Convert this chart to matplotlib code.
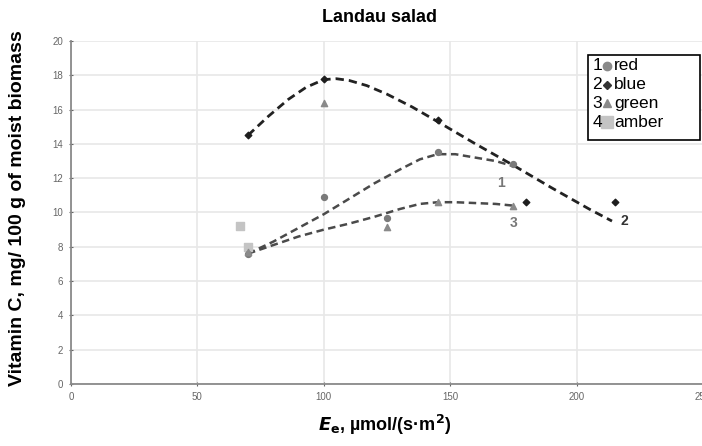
import matplotlib
matplotlib.use("Agg")
import matplotlib.pyplot as plt
from matplotlib.lines import Line2D
from matplotlib.patches import Rectangle

plt.rcParams["font.family"] = ["Liberation Sans", "DejaVu Sans"]

# measured points
red_x = [70, 100, 125, 145, 175]
red_y = [7.6, 10.9, 9.7, 13.5, 12.8]
blue_x = [70, 100, 145, 180, 215]
blue_y = [14.5, 17.8, 15.4, 10.6, 10.6]
green_x = [70, 100, 125, 145, 175]
green_y = [7.7, 16.4, 9.15, 10.6, 10.4]
amber_x = [67, 70]
amber_y = [9.2, 8.0]

# trend curves
red_tx = [70, 80, 90, 100, 110, 120, 130, 138, 145, 152, 160, 168, 175]
red_ty = [7.6, 8.3, 9.1, 9.9, 10.8, 11.7, 12.5, 13.1, 13.4, 13.4, 13.2, 13.0, 12.7]
blue_tx = [70, 78, 86, 93, 100, 105, 110, 117, 125, 135, 145, 160, 175, 190, 205, 214]
blue_ty = [14.5, 15.6, 16.6, 17.3, 17.75, 17.8, 17.7, 17.4, 16.9, 16.15, 15.3, 14.0, 12.75, 11.45, 10.2, 9.5]
green_tx = [70, 80, 90, 100, 110, 120, 130, 138, 145, 152, 160, 168, 175]
green_ty = [7.6, 8.1, 8.6, 9.0, 9.35, 9.75, 10.2, 10.5, 10.6, 10.6, 10.55, 10.5, 10.4]

legend_nums = ["1", "2", "3", "4"]
legend_names = ["red", "blue", "green", "amber"]

W, H = 702, 446
fig = plt.figure(figsize=(W / 100, H / 100), dpi=100)
ax = fig.add_axes([71 / W, 1 - 384 / H, 632 / W, 343 / H])

ax.set_xlim(0, 250)
ax.set_ylim(0, 20)
ax.set_xticks([0, 50, 100, 150, 200, 250])
ax.set_yticks(range(0, 21, 2))
ax.grid(True, color="#e8e8e8", linewidth=1.2)
ax.set_axisbelow(True)
for s in ["top", "right"]:
    ax.spines[s].set_visible(False)
for s in ["left", "bottom"]:
    ax.spines[s].set_color("#8a8a8a")
    ax.spines[s].set_linewidth(1.3)
ax.tick_params(labelsize=7, colors="#666666", length=3, direction="inout", pad=4)

dash = (0, (3, 1.8))
ax.plot(red_tx, red_ty, color="#4a4a4a", lw=1.8, linestyle=dash)
ax.plot(green_tx, green_ty, color="#4a4a4a", lw=1.8, linestyle=dash)
ax.plot(blue_tx, blue_ty, color="#222222", lw=2.0, linestyle=dash)

ax.scatter(amber_x, amber_y, marker="s", s=26, color="#c4c4c4", zorder=3)
ax.scatter(red_x, red_y, marker="o", s=18, color="#7a7a7a", zorder=3)
ax.scatter(green_x, green_y, marker="^", s=20, color="#8a8a8a", zorder=3)
ax.scatter(blue_x, blue_y, marker="D", s=11, color="#1e1e1e", zorder=4)

ax.text(170, 11.7, "1", fontsize=10, fontweight="bold", color="#777777", ha="center", va="center")
ax.text(175, 9.4, "3", fontsize=10, fontweight="bold", color="#777777", ha="center", va="center")
ax.text(219, 9.5, "2", fontsize=10, fontweight="bold", color="#333333", ha="center", va="center")

fig.text(380 / W, 1 - 18 / H, "Landau salad", fontsize=13, fontweight="bold", ha="center", va="center")
fig.text(18 / W, 1 - 208 / H, "Vitamin C, mg/ 100 g of moist biomass", fontsize=14,
         fontweight="bold", rotation=90, ha="center", va="center")
fig.text(385 / W, 1 - 425 / H, r"$\mathbfit{E}_{\mathbf{e}}$, µmol/(s·m$^{\mathbf{2}}$)", fontsize=13,
         fontweight="bold", ha="center", va="center")

# legend box
fig.add_artist(Rectangle((588 / W, 1 - 140 / H), 112 / W, 85 / H, transform=fig.transFigure,
                         facecolor="white", edgecolor="black", linewidth=1.2))
styles = [("o", "#8a8a8a", 6), ("D", "#333333", 4), ("^", "#8a8a8a", 6), ("s", "#c4c4c4", 8)]
for i, (num, name) in enumerate(zip(legend_nums, legend_names)):
    yy = 1 - (66 + i * 18.7) / H
    fig.text(597 / W, yy, num, fontsize=12.5, ha="center", va="center")
    m, c, ms = styles[i]
    fig.add_artist(Line2D([607 / W], [yy], marker=m, color=c, markersize=ms, linestyle="none",
                          transform=fig.transFigure))
    fig.text(614 / W, yy, name, fontsize=12.5, ha="left", va="center")

fig.savefig("out.png", dpi=100)
